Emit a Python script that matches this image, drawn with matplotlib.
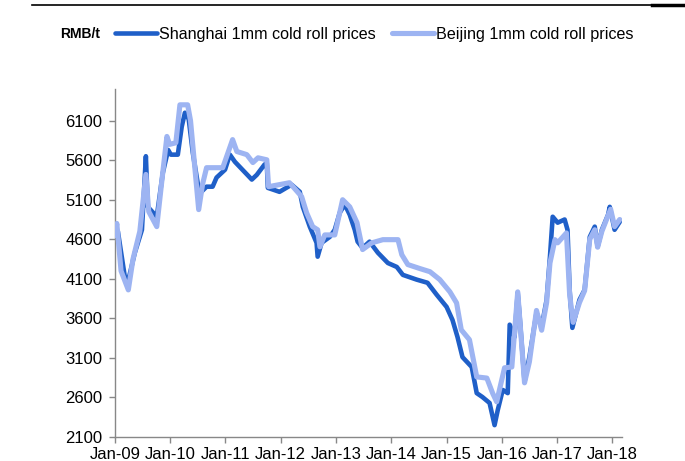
import matplotlib
matplotlib.use("Agg")
import matplotlib.pyplot as plt
import matplotlib.dates as mdates
from matplotlib.lines import Line2D
import pandas as pd

plt.rcParams['font.family'] = ['Liberation Sans', 'DejaVu Sans']

sh_dates = ["2009-01-01", "2009-01-20", "2009-03-07", "2009-04-01", "2009-05-12", "2009-06-28",
            "2009-07-17", "2009-07-24", "2009-08-06", "2009-10-04", "2009-11-13", "2009-12-18",
            "2010-01-05", "2010-02-20", "2010-03-18", "2010-04-08", "2010-05-03", "2010-05-30",
            "2010-07-01", "2010-07-15", "2010-08-29", "2010-10-08", "2010-11-03", "2010-12-29",
            "2011-01-30", "2011-03-04", "2011-06-24", "2011-07-27", "2011-09-16", "2011-10-01",
            "2011-10-08", "2011-12-24", "2012-03-13", "2012-05-06", "2012-05-26", "2012-07-11",
            "2012-08-25", "2012-09-01", "2012-09-27", "2012-11-20", "2012-12-23", "2013-01-25",
            "2013-02-27", "2013-04-01", "2013-05-04", "2013-05-23", "2013-06-25", "2013-08-10",
            "2013-10-04", "2013-12-09", "2014-02-06", "2014-03-18", "2014-06-17", "2014-08-28",
            "2014-10-27", "2015-01-01", "2015-02-09", "2015-03-14", "2015-04-16", "2015-06-16",
            "2015-07-19", "2015-08-26", "2015-10-12", "2015-11-14", "2015-12-05", "2016-01-07",
            "2016-02-09", "2016-02-22", "2016-03-25", "2016-04-15", "2016-04-28", "2016-05-30",
            "2016-07-01", "2016-08-17", "2016-09-20", "2016-10-23", "2016-11-14", "2016-12-02",
            "2017-01-04", "2017-02-19", "2017-03-10", "2017-03-24", "2017-04-11", "2017-05-28",
            "2017-07-01", "2017-08-04", "2017-09-06", "2017-09-25", "2017-10-23", "2017-12-03",
            "2017-12-14", "2018-01-15", "2018-02-18"]
sh_values = [4630, 4700, 4125, 4100, 4430, 4720,
             5400, 5650, 5010, 4885, 5440, 5730,
             5670, 5670, 6025, 6200, 6120, 5695,
             5315, 5180, 5265, 5265, 5380, 5480,
             5670, 5580, 5355, 5415, 5545, 5560,
             5250, 5200, 5290, 5200, 5010, 4760,
             4555, 4380, 4555, 4630, 4720, 4935,
             5040, 4910, 4720, 4570, 4490, 4570,
             4430, 4300, 4250, 4150, 4090, 4050,
             3900, 3745, 3580, 3365, 3110, 2985,
             2655, 2605, 2530, 2250, 2440, 2695,
             2655, 3520, 3365, 3925, 3620, 2800,
             3110, 3670, 3495, 3835, 4380, 4885,
             4810, 4850, 4720, 3960, 3480, 3835,
             3960, 4630, 4760, 4505, 4720, 4910,
             5010, 4720, 4820]

bj_dates = ["2009-01-01", "2009-01-13", "2009-02-10", "2009-03-30", "2009-04-30", "2009-06-14",
            "2009-07-24", "2009-08-12", "2009-10-04", "2009-11-13", "2009-12-10", "2009-12-28",
            "2010-02-07", "2010-03-06", "2010-04-26", "2010-05-15", "2010-07-08", "2010-08-03",
            "2010-08-29", "2010-12-14", "2011-02-17", "2011-03-17", "2011-05-22", "2011-07-01",
            "2011-08-04", "2011-10-01", "2011-10-13", "2012-02-28", "2012-05-18", "2012-06-20",
            "2012-07-30", "2012-09-01", "2012-09-16", "2012-10-18", "2012-12-23", "2013-02-13",
            "2013-04-01", "2013-05-19", "2013-06-25", "2013-08-25", "2013-11-06", "2014-02-14",
            "2014-03-11", "2014-04-20", "2014-07-08", "2014-09-13", "2014-11-17", "2015-01-23",
            "2015-03-08", "2015-04-08", "2015-06-01", "2015-07-19", "2015-09-24", "2015-11-02",
            "2015-11-28", "2016-01-19", "2016-03-07", "2016-04-15", "2016-05-30", "2016-07-01",
            "2016-08-17", "2016-09-20", "2016-10-23", "2016-11-14", "2016-12-17", "2017-01-04",
            "2017-03-03", "2017-03-24", "2017-04-16", "2017-05-28", "2017-07-01", "2017-08-04",
            "2017-09-06", "2017-09-25", "2017-10-23", "2017-12-03", "2017-12-20", "2018-01-15",
            "2018-02-18"]
bj_values = [4650, 4800, 4200, 3960, 4350, 4700,
             5420, 4950, 4760, 5450, 5900, 5800,
             5820, 6300, 6300, 6100, 4975, 5300,
             5505, 5505, 5860, 5710, 5670, 5570,
             5630, 5605, 5265, 5315, 5140, 4935,
             4760, 4720, 4505, 4655, 4655, 5100,
             5010, 4810, 4470, 4555, 4595, 4595,
             4405, 4280, 4230, 4190, 4090, 3935,
             3795, 3455, 3330, 2860, 2845, 2650,
             2545, 2975, 2985, 3935, 2785, 3050,
             3700, 3450, 3800, 4300, 4595, 4555,
             4680, 3900, 3550, 3800, 3950, 4600,
             4720, 4500, 4700, 4900, 4980, 4760,
             4850]

y_ticks = [2100, 2600, 3100, 3600, 4100, 4600, 5100, 5600, 6100]
x_tick_years = list(range(2009, 2019))

sh_c = "#1F5FC8"
bj_c = "#9DB4F2"

fig = plt.figure(figsize=(6.85, 4.61), dpi=100)
ax = fig.add_axes([115/685, 1 - 437/461, (622 - 115)/685, (437 - 89)/461])

ax.plot(pd.to_datetime(sh_dates), sh_values, color=sh_c, lw=3.3, solid_joinstyle='round',
        solid_capstyle='round', label="Shanghai 1mm cold roll prices", zorder=2)
ax.plot(pd.to_datetime(bj_dates), bj_values, color=bj_c, lw=3.7, solid_joinstyle='round',
        solid_capstyle='round', label="Beijing 1mm cold roll prices", zorder=3)

ax.set_ylim(2100, 6500)
ax.set_xlim(pd.Timestamp("2009-01-01"), pd.Timestamp("2018-03-05"))
ax.set_yticks(y_ticks)
ax.set_xticks([pd.Timestamp(f"{y}-01-01") for y in x_tick_years])
ax.xaxis.set_major_formatter(mdates.DateFormatter('%b-%y'))

for s in ['top', 'right']:
    ax.spines[s].set_visible(False)
for s in ['left', 'bottom']:
    ax.spines[s].set_color('#888888')
    ax.spines[s].set_linewidth(1.0)
ax.tick_params(axis='both', colors='#888888', labelcolor='black', labelsize=12,
               direction='out', length=4, width=1.0)
ax.tick_params(axis='x', pad=3)
ax.tick_params(axis='y', pad=5)

fig.text(60/685, 1 - 34/461, "RMB/t", fontsize=10, fontweight='bold', va='center', ha='left')
leg = fig.legend(loc='center left', bbox_to_anchor=(115/685, 1 - 34/461), ncol=2, frameon=False,
                 prop={'size': 11.6}, handlelength=2.6, handletextpad=0.15, columnspacing=1.0,
                 borderpad=0, borderaxespad=0)

fig.add_artist(Line2D([32/685, 1.0], [1 - 5/461, 1 - 5/461], color='black', lw=1.2,
                      transform=fig.transFigure))
fig.add_artist(Line2D([652/685, 1.0], [1 - 5/461, 1 - 5/461], color='black', lw=2.5,
                      transform=fig.transFigure))

fig.savefig("out.png", dpi=100)
